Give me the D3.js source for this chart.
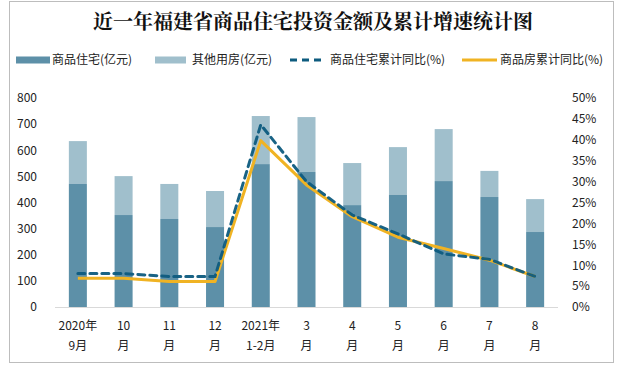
<!DOCTYPE html>
<html><head><meta charset="utf-8">
<script src="https://cdn.jsdelivr.net/npm/d3@7"></script>
<style>body{margin:0;background:#fff}svg{display:block}</style>
</head><body>
<svg id="c" width="618" height="369"></svg>
<script>
const categories = [["2020年","9月"],["10","月"],["11","月"],["12","月"],["2021年","1-2月"],["3","月"],["4","月"],["5","月"],["6","月"],["7","月"],["8","月"]];
const residential = [471, 352, 337, 306, 547, 517, 390, 429, 482, 421, 287];
const totalInvest = [635, 501, 471, 444, 731, 727, 551, 612, 681, 521, 413];
const residentialYoY = [8.0, 8.0, 7.3, 7.3, 43.6, 30.0, 22.0, 17.5, 12.7, 11.4, 7.3];
const housingYoY = [6.9, 6.9, 6.1, 6.1, 39.8, 29.2, 21.6, 16.7, 14.0, 11.2, 7.3];
const leftTicks = [0,100,200,300,400,500,600,700,800];
const rightTicks = [0,5,10,15,20,25,30,35,40,45,50];
const seriesNames = ["商品住宅(亿元)","其他用房(亿元)","商品住宅累计同比(%)","商品房累计同比(%)"];
const title = "近一年福建省商品住宅投资金额及累计增速统计图";

const C = {dark:"#5d90a8", light:"#a0bfcc", dash:"#0d5b7e", gold:"#f0b323"};
const svg = d3.select("#c");
const font = "'Microsoft YaHei','Noto Sans CJK SC',sans-serif";

svg.append("rect").attr("x",9.5).attr("y",1.5).attr("width",604).attr("height",361)
  .attr("fill","#fff").attr("stroke","#bdbdbd");

svg.append("text").attr("x",313).attr("y",29).attr("text-anchor","middle")
  .attr("font-family","'Noto Serif CJK SC','Noto Sans CJK SC',serif").attr("font-weight","bold")
  .attr("font-size",20).attr("fill","#111").text(title);

const x = d3.scaleBand().domain(d3.range(categories.length)).range([55,558]).paddingInner(0.606).paddingOuter(0.303);
const yL = d3.scaleLinear().domain([0,800]).range([307,98]);
const yR = d3.scaleLinear().domain([0,50]).range([307,98]);

// bars
const g = svg.append("g");
g.selectAll(".o").data(totalInvest).join("rect")
  .attr("x",(d,i)=>x(i)).attr("width",x.bandwidth())
  .attr("y",d=>yL(d)).attr("height",(d,i)=>yL(residential[i])-yL(d)).attr("fill",C.light);
g.selectAll(".r").data(residential).join("rect")
  .attr("x",(d,i)=>x(i)).attr("width",x.bandwidth())
  .attr("y",d=>yL(d)).attr("height",d=>yL(0)-yL(d)).attr("fill",C.dark);

// baseline
svg.append("line").attr("x1",55).attr("x2",558).attr("y1",307.5).attr("y2",307.5).attr("stroke","#d9d9d9");

// axes
const axL = d3.axisLeft(yL).tickValues(leftTicks).tickSize(0).tickPadding(0);
svg.append("g").attr("transform","translate(37,0)").call(axL)
  .call(s=>s.select(".domain").remove())
  .selectAll("text").attr("font-family",font).attr("font-size",12).attr("fill","#222");
const axR = d3.axisRight(yR).tickValues(rightTicks).tickSize(0).tickPadding(0).tickFormat(d=>d+"%");
svg.append("g").attr("transform","translate(572,0)").call(axR)
  .call(s=>s.select(".domain").remove())
  .selectAll("text").attr("font-family",font).attr("font-size",12).attr("fill","#222");

// x labels
const xl = svg.append("g");
categories.forEach((c,i)=>{
  const cx = x(i)+x.bandwidth()/2;
  const t = xl.append("text").attr("text-anchor","middle").attr("font-family",font).attr("font-size",12).attr("fill","#222");
  t.append("tspan").attr("x",cx).attr("y",330).text(c[0]);
  t.append("tspan").attr("x",cx).attr("y",350).text(c[1]);
});

// lines
const line = yS => d3.line().x((d,i)=>x(i)+x.bandwidth()/2).y(d=>yS(d));
svg.append("path").datum(housingYoY).attr("d",line(yR)).attr("fill","none")
  .attr("stroke",C.gold).attr("stroke-width",3).attr("stroke-linejoin","round");
svg.append("path").datum(residentialYoY).attr("d",line(yR)).attr("fill","none")
  .attr("stroke",C.dash).attr("stroke-width",3).attr("stroke-dasharray","7,5").attr("stroke-linecap","round").attr("stroke-opacity",0.95);

// legend
const leg = svg.append("g").attr("font-family",font).attr("font-size",12).attr("fill","#222");
const ly = 60;
const items = [
  {sx:16, sw:34, tx:52, type:"bar", c:C.dark},
  {sx:155, sw:31, tx:192, type:"bar", c:C.light},
  {sx:290, sw:34, tx:330, type:"dash", c:C.dash},
  {sx:462, sw:35, tx:500, type:"line", c:C.gold}
];
items.forEach((it,i)=>{
  if(it.type==="bar") leg.append("rect").attr("x",it.sx).attr("y",ly-3.5).attr("width",it.sw).attr("height",7).attr("fill",it.c);
  else leg.append("line").attr("x1",it.sx).attr("x2",it.sx+it.sw).attr("y1",ly).attr("y2",ly)
    .attr("stroke",it.c).attr("stroke-width",3).attr("stroke-dasharray",it.type==="dash"?"7,5":null);
  leg.append("text").attr("x",it.tx).attr("y",ly).attr("dy","0.35em").text(seriesNames[i]);
});
</script>
</body></html>
